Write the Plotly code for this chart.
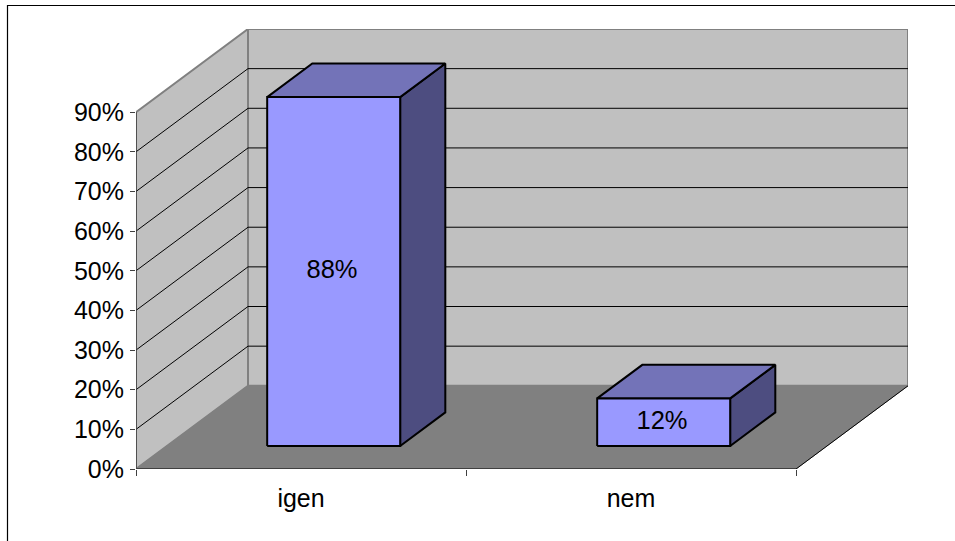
import plotly.graph_objects as go

categories = ["igen", "nem"]
values = [88, 12]
value_labels = ["88%", "12%"]
y_ticks = [0, 10, 20, 30, 40, 50, 60, 70, 80, 90]
y_tick_labels = ["0%", "10%", "20%", "30%", "40%", "50%", "60%", "70%", "80%", "90%"]

# oblique projection (depth expressed in axis units)
DX = 112 / 330
DY = 83 / 3.955
BAR_W = 0.403
BAR_SHIFT = 0.005
D_FRONT = 0.277
D_BACK = 0.68
Y_TOP = y_ticks[-1]
N = len(categories)

FONT = "Liberation Sans, Arial, sans-serif"
FS = 25
WIN_W, WIN_H = 955, 541
ML, MR, MT, MB = 136, 47, 29, 72
PW, PH = WIN_W - ML - MR, WIN_H - MT - MB


def P(x, y, d):
    return x + d * DX, y + d * DY


def poly(points, fill=None, color="#808080", width=1):
    xs, ys = zip(*[P(*p) for p in points])
    return go.Scatter(
        x=list(xs), y=list(ys), mode="lines",
        fill="toself" if fill else None, fillcolor=fill,
        line=dict(color=color, width=width),
        hoverinfo="skip", showlegend=False, cliponaxis=False,
    )


fig = go.Figure()

# walls and floor
fig.add_trace(poly([(0, 0, 1), (N, 0, 1), (N, Y_TOP, 1), (0, Y_TOP, 1), (0, 0, 1)], "#C0C0C0", "#808080", 2))
fig.add_trace(poly([(0, 0, 0), (0, 0, 1), (0, Y_TOP, 1), (0, Y_TOP, 0), (0, 0, 0)], "#C0C0C0", "#808080", 2))
fig.add_trace(poly([(0, 0, 0), (N, 0, 0), (N, 0, 1), (0, 0, 1), (0, 0, 0)], "#808080", "#808080", 1))

# gridlines on both walls
for t in y_ticks[1:-1]:
    fig.add_trace(poly([(0, t, 0), (0, t, 1), (N, t, 1)], None, "#000000", 1))

# floor's front edges and axis lines
fig.add_trace(poly([(N, 0, 1), (N, 0, 0), (0, 0, 0)], None, "#000000", 1))
fig.add_trace(poly([(0, 0, 0), (0, Y_TOP, 0)], None, "#404040", 1.5))

# bars
for i, v in enumerate(values):
    l = i + 0.5 + BAR_SHIFT - BAR_W / 2
    r = i + 0.5 + BAR_SHIFT + BAR_W / 2
    f, b = D_FRONT, D_BACK
    fig.add_trace(poly([(r, 0, f), (r, 0, b), (r, v, b), (r, v, f), (r, 0, f)], "#4D4D80", "#000000", 2))
    fig.add_trace(poly([(l, v, f), (r, v, f), (r, v, b), (l, v, b), (l, v, f)], "#7373B8", "#000000", 2))
    fig.add_trace(poly([(l, 0, f), (r, 0, f), (r, v, f), (l, v, f), (l, 0, f)], "#9999FF", "#000000", 2))

# data labels
lx, ly = zip(*[P(i + 0.5, v / 2, D_FRONT) for i, v in enumerate(values)])
fig.add_trace(go.Scatter(
    x=list(lx), y=list(ly), mode="text", text=value_labels,
    textfont=dict(family=FONT, size=25.5, color="#000000"),
    textposition="middle center", hoverinfo="skip", showlegend=False,
))

fig.update_layout(
    width=WIN_W, height=WIN_H,
    autosize=False,
    margin=dict(l=ML, r=MR, t=MT, b=MB, pad=0),
    paper_bgcolor="#FFFFFF", plot_bgcolor="rgba(0,0,0,0)",
    font=dict(family=FONT, size=FS, color="#000000"),
    showlegend=False,
    shapes=[dict(
        type="path", xref="paper", yref="paper",
        path="M {} {} L {} {} L {} {}".format(
            (7.5 - ML) / PW, (WIN_H - MB - WIN_H) / PH,
            (7.5 - ML) / PW, (WIN_H - MB - 5.5) / PH,
            (WIN_W - ML) / PW, (WIN_H - MB - 5.5) / PH,
        ),
        line=dict(color="#000000", width=1.2),
    )],
)
fig.update_xaxes(
    range=[0, N + DX], showgrid=False, zeroline=False, showline=False,
    tickmode="array", tickvals=[i + 0.5 for i in range(N)], ticktext=categories,
    ticks="", ticklabelstandoff=12,
    minor=dict(tickmode="array", tickvals=list(range(N + 1)), ticks="outside",
               ticklen=6, tickcolor="#404040", tickwidth=1, showgrid=False),
)
fig.update_yaxes(
    range=[0, Y_TOP + DY], showgrid=False, zeroline=False, showline=False,
    tickmode="array", tickvals=y_ticks, ticktext=y_tick_labels,
    ticks="outside", ticklen=5, tickcolor="#404040", tickwidth=1,
    ticklabelstandoff=1,
)

fig.write_html(
    "out.html",
    config=dict(displayModeBar=False),
    post_script="document.body.style.margin='0';document.body.style.overflow='hidden';",
)
